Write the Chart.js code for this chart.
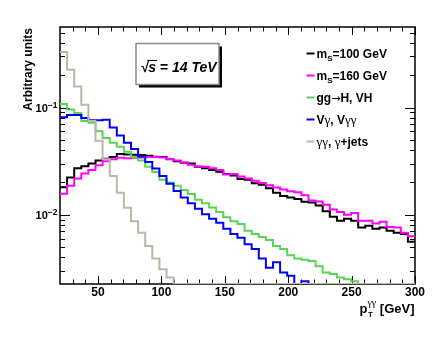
<!DOCTYPE html>
<html><head><meta charset="utf-8">
<script src="https://cdn.jsdelivr.net/npm/chart.js@4.4.1/dist/chart.umd.min.js"></script>
<style>html,body{margin:0;padding:0;background:#fff;}canvas{display:block;}</style>
</head><body>
<canvas id="c" width="432" height="342"></canvas>
<script>
// ---- axis definition ----
const binLow = 20;      // GeV, left edge of first bin
const binWidth = 5.6;   // GeV, 50 bins up to 300 GeV
const xMin = 20, xMax = 300;
const yMin = 0.00226, yMax = 0.564;
const U = yMin;         // bins below the visible range (drawn on the frame, as in ROOT)

const xMajorTicks = [50, 100, 150, 200, 250, 300];
const xMinorTicks = [30, 40, 60, 70, 80, 90, 110, 120, 130, 140, 160, 170, 180, 190, 210, 220, 230, 240, 260, 270, 280, 290];
const yMajorTicks = [0.01, 0.1];
const yMajorExp = ['\u22122', '\u22121'];
const yMinorTicks = [0.003, 0.004, 0.005, 0.006, 0.007, 0.008, 0.009, 0.02, 0.03, 0.04, 0.05, 0.06, 0.07, 0.08, 0.09, 0.2, 0.3, 0.4, 0.5];

// ---- series (one value per bin) ----
const ms100 = [0.0181, 0.0222, 0.0272, 0.0283, 0.0300, 0.0320, 0.0333, 0.0345, 0.0368, 0.0364,
               0.0362, 0.0360, 0.0356, 0.0348, 0.0345, 0.0330, 0.0315, 0.0306, 0.0300, 0.0280,
               0.0272, 0.0262, 0.0252, 0.0240, 0.0232, 0.0215, 0.0212, 0.0197, 0.0190, 0.0177,
               0.0160, 0.0150, 0.0145, 0.0140, 0.0132, 0.0130, 0.0122, 0.0108, 0.0096, 0.0088,
               0.0092, 0.0088, 0.0076, 0.0079, 0.0074, 0.0076, 0.0071, 0.0068, 0.0066, 0.0056];
const ms160 = [0.0157, 0.0186, 0.0218, 0.0243, 0.0262, 0.0290, 0.0316, 0.0330, 0.0340, 0.0336,
               0.0340, 0.0342, 0.0346, 0.0345, 0.0342, 0.0332, 0.0320, 0.0308, 0.0292, 0.0282,
               0.0280, 0.0272, 0.0262, 0.0238, 0.0240, 0.0228, 0.0218, 0.0208, 0.0198, 0.0188,
               0.0180, 0.0172, 0.0166, 0.0162, 0.0152, 0.0136, 0.0133, 0.0124, 0.0112, 0.0106,
               0.0100, 0.0104, 0.0088, 0.0088, 0.0083, 0.0086, 0.0077, 0.0076, 0.0068, 0.0063];
const ggH   = [0.108, 0.096, 0.089, 0.075, 0.072, 0.060, 0.052, 0.047, 0.043, 0.0386,
               0.0345, 0.032, 0.028, 0.025, 0.0212, 0.020, 0.0186, 0.017, 0.0156, 0.0138,
               0.0128, 0.0117, 0.0106, 0.0095, 0.0087, 0.0082, 0.0071, 0.0066, 0.0062, 0.0058,
               0.0051, 0.0048, 0.0042, 0.0039, 0.0038, 0.0037, 0.0033, 0.0029, 0.0028, 0.0026,
               0.0025, 0.0024, U, U, U, U, U, U, U, U];
const vGam  = [0.081, 0.085, 0.085, 0.080, 0.076, 0.076, 0.077, 0.065, 0.055, 0.047,
               0.041, 0.035, 0.031, 0.027, 0.023, 0.0195, 0.0167, 0.0145, 0.0128, 0.0114,
               0.0101, 0.0092, 0.0084, 0.0074, 0.0066, 0.0061, 0.0053, 0.0048, 0.0039, 0.0032,
               0.0036, 0.0029, 0.0027, U, 0.0024, U, U, U, U, U,
               U, U, U, U, U, U, U, U, U, U];
const gamGam = [0.33, 0.225, 0.157, 0.106, 0.075, 0.049, 0.033, 0.023, 0.016, 0.0116,
               0.0087, 0.0068, 0.0051, 0.0039, 0.0031, 0.0026, U, U, U, U,
               U, U, U, U, U, U, U, U, U, U,
               U, U, U, U, U, U, U, U, U, U,
               U, U, U, U, U, U, U, U, U, U];

const seriesColors = ['#000000', '#ff00ff', '#59d454', '#0000ff', '#bdb5a6'];

function toPoints(vals) {
  const pts = vals.map((v, i) => ({x: binLow + binWidth * i, y: v}));
  pts.push({x: xMax, y: vals[vals.length - 1]});
  return pts;
}

const B = (s) => 'bold ' + s + 'px "Liberation Sans"';
const G = (s) => s + 'px "Liberation Serif"';

const legendRows = [
  [{t: 'm', f: B(12)}, {t: 'S', f: B(8), dy: 3}, {t: '=100 GeV', f: B(12)}],
  [{t: 'm', f: B(12)}, {t: 'S', f: B(8), dy: 3}, {t: '=160 GeV', f: B(12)}],
  [{t: 'gg', f: B(12)}, {t: '\u2192', f: '11px "DejaVu Sans"'}, {t: 'H, VH', f: B(12)}],
  [{t: 'V', f: B(12)}, {t: '\u03b3', f: G(13)}, {t: ', V', f: B(12)}, {t: '\u03b3\u03b3', f: G(13)}],
  [{t: '\u03b3\u03b3', f: G(13)}, {t: ', ', f: B(12)}, {t: '\u03b3', f: G(13)}, {t: '+jets', f: B(12)}]
];

function drawParts(ctx, x, y, parts) {
  for (const p of parts) {
    ctx.font = p.f;
    ctx.fillText(p.t, x, y + (p.dy || 0));
    x += ctx.measureText(p.t).width;
  }
  return x;
}

const framePlugin = {
  id: 'frame',
  beforeDatasetsDraw(chart) {
    const {ctx, chartArea: a, scales: {x, y}} = chart;
    ctx.save();
    ctx.strokeStyle = '#000';
    ctx.lineWidth = 1.5;
    ctx.strokeRect(a.left, a.top, a.right - a.left, a.bottom - a.top);
    ctx.lineWidth = 1;
    ctx.beginPath();
    const xt = (v, len) => {
      const px = Math.round(x.getPixelForValue(v)) + 0.5;
      ctx.moveTo(px, a.bottom); ctx.lineTo(px, a.bottom - len);
      ctx.moveTo(px, a.top); ctx.lineTo(px, a.top + len);
    };
    const yt = (v, len) => {
      const py = Math.round(y.getPixelForValue(v)) + 0.5;
      ctx.moveTo(a.left, py); ctx.lineTo(a.left + len, py);
      ctx.moveTo(a.right, py); ctx.lineTo(a.right - len, py);
    };
    xMajorTicks.forEach(v => xt(v, 8));
    xMinorTicks.forEach(v => xt(v, 4.5));
    yMajorTicks.forEach(v => yt(v, 10));
    yMinorTicks.forEach(v => yt(v, 5));
    ctx.stroke();
    ctx.restore();
  },
  afterDraw(chart) {
    const {ctx, chartArea: a, scales: {x, y}} = chart;
    ctx.save();
    ctx.fillStyle = '#000';
    // x tick labels
    ctx.font = B(12);
    ctx.textAlign = 'center';
    ctx.textBaseline = 'alphabetic';
    xMajorTicks.forEach(v => ctx.fillText(String(v), x.getPixelForValue(v), 296));
    // y tick labels 10^n
    ctx.textAlign = 'left';
    yMajorTicks.forEach((v, i) => {
      const py = y.getPixelForValue(v);
      ctx.font = 'bold 8.5px "Liberation Sans"';
      const sw = ctx.measureText(yMajorExp[i]).width;
      ctx.font = B(11);
      const tw = ctx.measureText('10').width;
      const sx = 57.5 - sw;
      ctx.fillText('10', sx - tw, py + 4.5);
      ctx.font = 'bold 8.5px "Liberation Sans"';
      ctx.fillText(yMajorExp[i], sx, py);
    });
    // y axis title
    ctx.save();
    ctx.translate(31.5, 28);
    ctx.rotate(-Math.PI / 2);
    ctx.textAlign = 'right';
    ctx.font = B(12);
    ctx.fillText('Arbitrary units', 0, 0);
    ctx.restore();
    // x axis title  p_T^{γγ} [GeV]
    ctx.textAlign = 'left';
    ctx.font = B(13); const wp = ctx.measureText('p').width;
    ctx.font = G(10); const wg = ctx.measureText('\u03b3\u03b3').width;
    ctx.font = B(8); const wT = ctx.measureText('T').width;
    ctx.font = B(13); const wr = ctx.measureText(' [GeV]').width;
    let tx = 414.5 - (wp + Math.max(wg, wT) + wr);
    const base = 312.5;
    ctx.font = B(13); ctx.fillText('p', tx, base); tx += wp;
    ctx.font = G(10); ctx.fillText('\u03b3\u03b3', tx, base - 7);
    ctx.font = B(8); ctx.fillText('T', tx + 0.5, base + 4.5);
    tx += Math.max(wg, wT);
    ctx.font = B(13); ctx.fillText(' [GeV]', tx, base);
    // sqrt(s) box
    const bx = 136, by = 43.5, bw = 83, bh = 41;
    ctx.fillStyle = '#000';
    ctx.fillRect(bx + 3, by + 3, bw, bh);
    ctx.fillStyle = '#fff';
    ctx.fillRect(bx, by, bw, bh);
    ctx.strokeStyle = '#8a8a8a';
    ctx.lineWidth = 1.5;
    ctx.strokeRect(bx, by, bw, bh);
    ctx.fillStyle = '#000';
    ctx.font = 'italic bold 14px "Liberation Sans"';
    let sx = 140.5;
    const rw = ctx.measureText('\u221a').width;
    ctx.fillText('\u221a', sx, 71.5);
    const sw = ctx.measureText('s').width;
    ctx.fillText('s', sx + rw, 71.5);
    ctx.strokeStyle = '#000'; ctx.lineWidth = 1.2;
    ctx.beginPath(); ctx.moveTo(sx + rw - 1, 60.5); ctx.lineTo(sx + rw + sw + 1, 60.5); ctx.stroke();
    ctx.fillText(' = 14 TeV', sx + rw + sw, 71.5);
    // legend
    legendRows.forEach((parts, i) => {
      const yb = 57.5 + 22 * i;
      ctx.strokeStyle = seriesColors[i];
      ctx.lineWidth = 2;
      ctx.beginPath(); ctx.moveTo(306.5, yb - 4); ctx.lineTo(314.5, yb - 4); ctx.stroke();
      ctx.fillStyle = '#000';
      drawParts(ctx, 316.5, yb, parts);
    });
    ctx.restore();
  }
};

const seriesValues = [ms100, ms160, ggH, vGam, gamGam];
const seriesLabels = ['m_S=100 GeV', 'm_S=160 GeV', 'gg\u2192H, VH', 'V\u03b3, V\u03b3\u03b3', '\u03b3\u03b3, \u03b3+jets'];
const drawOrder = [4, 3, 2, 1, 0];

new Chart(document.getElementById('c'), {
  type: 'line',
  data: {
    datasets: seriesValues.map((vals, i) => ({
      label: seriesLabels[i],
      data: toPoints(vals),
      borderColor: seriesColors[i],
      borderWidth: 2,
      pointRadius: 0,
      fill: false,
      stepped: true,
      tension: 0,
      order: drawOrder[i]
    }))
  },
  options: {
    responsive: false,
    animation: false,
    events: [],
    layout: {padding: {left: 60, top: 27, right: 17, bottom: 58}},
    scales: {
      x: {type: 'linear', min: xMin, max: xMax, bounds: 'data', display: false},
      y: {type: 'logarithmic', min: yMin, max: yMax, bounds: 'data', display: false}
    },
    plugins: {legend: {display: false}, tooltip: {enabled: false}}
  },
  plugins: [framePlugin]
});
</script>
</body></html>
